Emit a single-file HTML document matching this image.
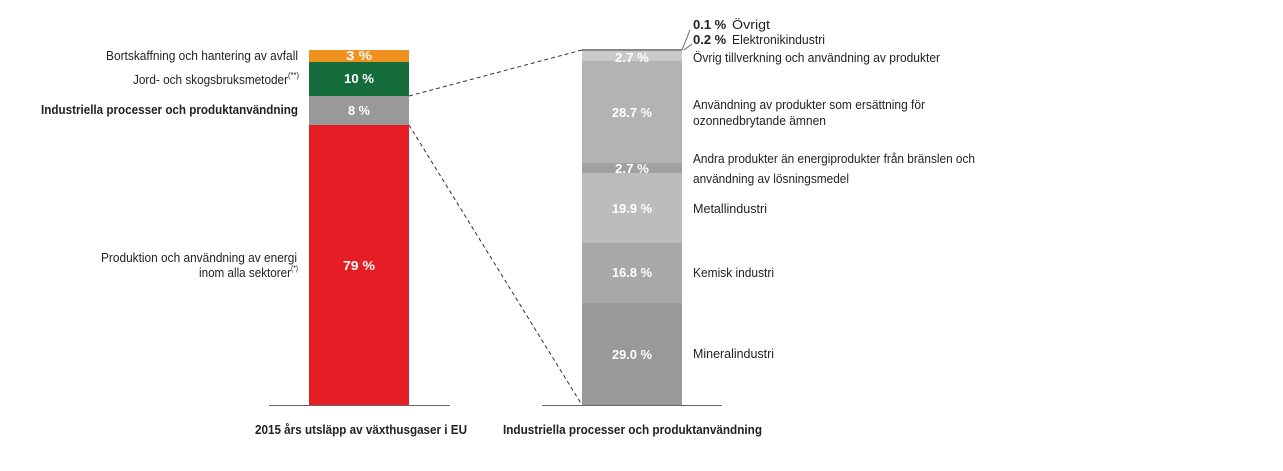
<!DOCTYPE html><html><head><meta charset="utf-8"><style>body{margin:0;background:#fff}svg{display:block}text{font-family:"Liberation Sans",sans-serif;font-size:13px;fill:#222}.v{fill:#fff;font-weight:bold;text-anchor:middle;font-size:13px}.b{font-weight:bold}</style></head><body>
<svg width="1283" height="471" viewBox="0 0 1283 471">
<rect x="309" y="50" width="100" height="12" fill="#f0921f"/>
<rect x="309" y="62" width="100" height="34" fill="#136c3a"/>
<rect x="309" y="96" width="100" height="29" fill="#999"/>
<rect x="309" y="125" width="100" height="280" fill="#e51e25"/>
<line x1="269" y1="405.5" x2="450" y2="405.5" stroke="#666"/>
<rect x="582" y="49" width="100" height="2" fill="#888"/>
<rect x="582" y="51" width="100" height="10" fill="#c9c9c9"/>
<rect x="582" y="61" width="100" height="102" fill="#b3b3b3"/>
<rect x="582" y="163" width="100" height="10" fill="#a0a0a0"/>
<rect x="582" y="173" width="100" height="70" fill="#bcbcbc"/>
<rect x="582" y="243" width="100" height="60" fill="#a8a8a8"/>
<rect x="582" y="303" width="100" height="102" fill="#999"/>
<line x1="542" y1="405.5" x2="722" y2="405.5" stroke="#666"/>
<line x1="409" y1="96" x2="582" y2="50" stroke="#333" stroke-dasharray="4,3"/>
<line x1="409" y1="125" x2="582" y2="405" stroke="#333" stroke-dasharray="4,3"/>
<line x1="682" y1="50" x2="690" y2="30" stroke="#666"/>
<line x1="684" y1="50" x2="692" y2="44" stroke="#666"/>
<text class="v" x="359" y="60" textLength="26" lengthAdjust="spacingAndGlyphs">3 %</text>
<text class="v" x="359" y="83" textLength="30" lengthAdjust="spacingAndGlyphs">10 %</text>
<text class="v" x="359" y="115" textLength="22" lengthAdjust="spacingAndGlyphs">8 %</text>
<text class="v" x="359" y="270" textLength="32" lengthAdjust="spacingAndGlyphs">79 %</text>
<text class="v" x="632" y="62" textLength="34" lengthAdjust="spacingAndGlyphs">2.7 %</text>
<text class="v" x="632" y="117" textLength="40" lengthAdjust="spacingAndGlyphs">28.7 %</text>
<text class="v" x="632" y="173" textLength="34" lengthAdjust="spacingAndGlyphs">2.7 %</text>
<text class="v" x="632" y="213" textLength="40" lengthAdjust="spacingAndGlyphs">19.9 %</text>
<text class="v" x="632" y="277" textLength="40" lengthAdjust="spacingAndGlyphs">16.8 %</text>
<text class="v" x="632" y="359" textLength="40" lengthAdjust="spacingAndGlyphs">29.0 %</text>
<text x="106" y="60" textLength="192" lengthAdjust="spacingAndGlyphs">Bortskaffning och hantering av avfall</text>
<text x="133" y="84" textLength="155" lengthAdjust="spacingAndGlyphs">Jord- och skogsbruksmetoder</text><text x="288" y="78" style="font-size:8px" textLength="11" lengthAdjust="spacingAndGlyphs">(**)</text>
<text class="b" x="41" y="114" textLength="257" lengthAdjust="spacingAndGlyphs">Industriella processer och produktanvändning</text>
<text x="101" y="262" textLength="196" lengthAdjust="spacingAndGlyphs">Produktion och användning av energi</text>
<text x="199" y="277" textLength="92" lengthAdjust="spacingAndGlyphs">inom alla sektorer</text><text x="291" y="271" style="font-size:8px" textLength="7" lengthAdjust="spacingAndGlyphs">(*)</text>
<text class="b" x="255" y="434" textLength="212" lengthAdjust="spacingAndGlyphs">2015 års utsläpp av växthusgaser i EU</text>
<text class="b" x="503" y="434" textLength="259" lengthAdjust="spacingAndGlyphs">Industriella processer och produktanvändning</text>
<text x="693" y="29"><tspan class="b" font-weight="bold">0.1 %</tspan></text><text x="732" y="29" textLength="38" lengthAdjust="spacingAndGlyphs">Övrigt</text>
<text x="693" y="44" font-weight="bold">0.2 %</text><text x="732" y="44" textLength="93" lengthAdjust="spacingAndGlyphs">Elektronikindustri</text>
<text x="693" y="62" textLength="247" lengthAdjust="spacingAndGlyphs">Övrig tillverkning och användning av produkter</text>
<text x="693" y="109" textLength="232" lengthAdjust="spacingAndGlyphs">Användning av produkter som ersättning för</text>
<text x="693" y="125" textLength="133" lengthAdjust="spacingAndGlyphs">ozonnedbrytande ämnen</text>
<text x="693" y="163" textLength="282" lengthAdjust="spacingAndGlyphs">Andra produkter än energiprodukter från bränslen och</text>
<text x="693" y="183" textLength="156" lengthAdjust="spacingAndGlyphs">användning av lösningsmedel</text>
<text x="693" y="213" textLength="74" lengthAdjust="spacingAndGlyphs">Metallindustri</text>
<text x="693" y="277" textLength="81" lengthAdjust="spacingAndGlyphs">Kemisk industri</text>
<text x="693" y="358" textLength="81" lengthAdjust="spacingAndGlyphs">Mineralindustri</text>
</svg></body></html>
